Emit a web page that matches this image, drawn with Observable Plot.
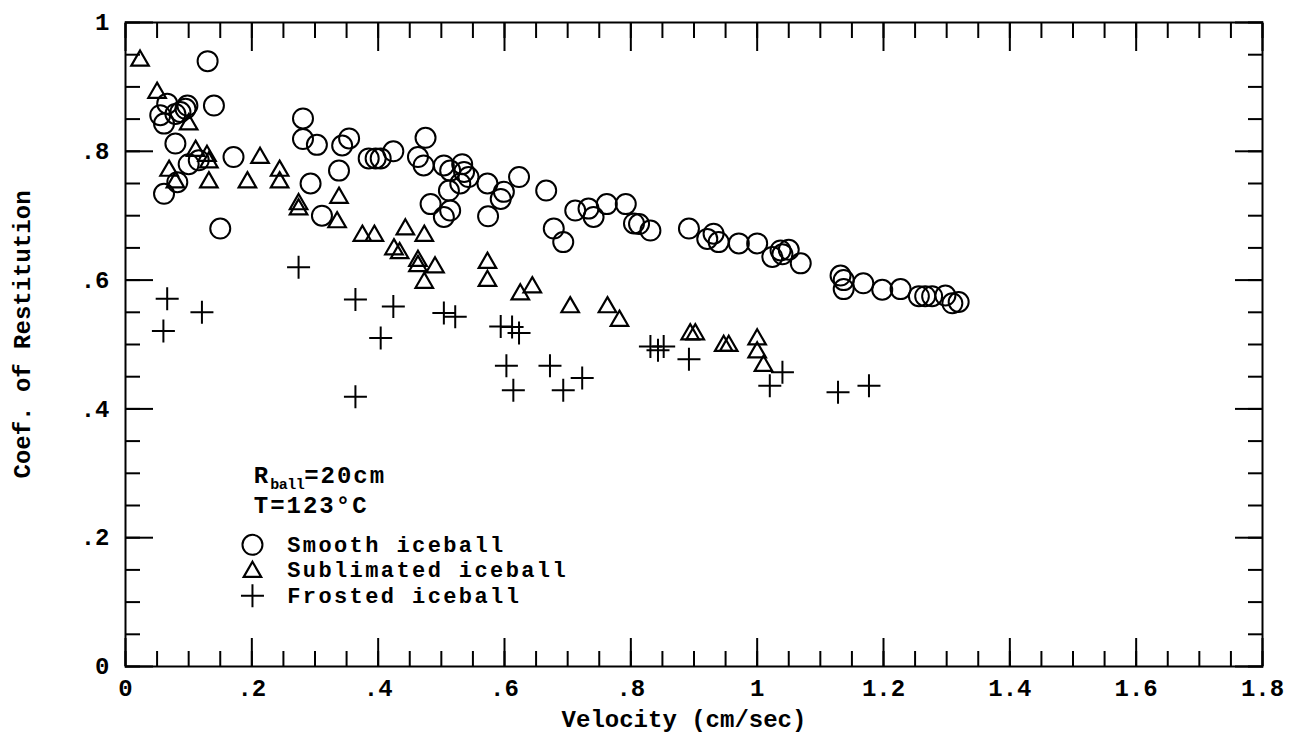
<!DOCTYPE html>
<html>
<head>
<meta charset="utf-8">
<script src="https://cdn.jsdelivr.net/npm/d3@7"></script>
<script src="https://cdn.jsdelivr.net/npm/@observablehq/plot@0.6"></script>
<style>
  html, body { margin: 0; padding: 0; background: #fff; }
  #chart svg { display: block; }
</style>
</head>
<body>
<div id="chart"></div>
<script>
// ---- Data ----
const smoothVelocity = [0.13,0.066,0.098,0.14,0.055,0.061,0.079,0.087,0.095,0.079,0.10,0.116,0.171,0.082,0.061,0.15,
  0.281,0.281,0.303,0.343,0.354,0.338,0.293,0.311,0.385,0.396,0.404,0.424,
  0.475,0.463,0.472,0.504,0.514,0.533,0.536,0.543,0.512,0.53,0.483,0.514,0.504,0.573,0.599,0.594,0.623,0.574,0.666,0.678,0.693,
  0.712,0.733,0.741,0.762,0.792,0.805,0.813,0.831,0.892,
  0.921,0.931,0.939,0.971,1.0,1.024,1.037,1.05,1.04,1.069,
  1.132,1.137,1.137,1.168,1.198,1.227,1.256,1.266,1.277,1.298,1.309,1.319];
const smoothCoef = [0.94,0.874,0.871,0.871,0.856,0.843,0.858,0.861,0.866,0.812,0.78,0.786,0.791,0.752,0.734,0.68,
  0.851,0.819,0.81,0.809,0.82,0.77,0.75,0.70,0.789,0.789,0.789,0.80,
  0.821,0.791,0.778,0.778,0.77,0.78,0.768,0.76,0.739,0.75,0.718,0.708,0.698,0.75,0.737,0.726,0.76,0.699,0.739,0.68,0.659,
  0.708,0.711,0.698,0.718,0.718,0.688,0.687,0.677,0.68,
  0.664,0.672,0.659,0.657,0.657,0.636,0.646,0.647,0.64,0.626,
  0.607,0.60,0.586,0.595,0.585,0.586,0.575,0.575,0.575,0.576,0.564,0.566];

const sublimatedVelocity = [0.023,0.05,0.10,0.111,0.129,0.132,0.069,0.079,0.132,0.193,0.213,0.244,0.244,0.274,0.274,
  0.338,0.335,0.375,0.394,0.425,0.434,0.443,0.473,0.463,0.463,0.49,0.473,0.573,0.573,0.625,0.644,
  0.704,0.763,0.782,0.894,0.902,0.947,0.955,1.0,1.0,1.01];
const sublimatedCoef = [0.944,0.894,0.845,0.804,0.796,0.786,0.773,0.755,0.755,0.755,0.793,0.773,0.755,0.721,0.713,
  0.731,0.693,0.672,0.672,0.651,0.645,0.682,0.672,0.633,0.625,0.623,0.599,0.63,0.602,0.581,0.592,
  0.561,0.561,0.54,0.519,0.519,0.501,0.501,0.511,0.491,0.47];

const frostedVelocity = [0.066,0.06,0.121,0.274,0.364,0.364,0.404,0.424,0.504,0.522,0.594,0.612,0.623,0.603,0.614,
  0.672,0.693,0.723,0.831,0.843,0.852,0.892,1.02,1.04,1.128,1.177];
const frostedCoef = [0.571,0.521,0.55,0.62,0.57,0.419,0.51,0.559,0.549,0.543,0.528,0.527,0.518,0.467,0.429,
  0.467,0.429,0.448,0.497,0.491,0.497,0.477,0.436,0.457,0.426,0.436];

const xMajorTicks = [0, 0.2, 0.4, 0.6, 0.8, 1, 1.2, 1.4, 1.6, 1.8];
const yMajorTicks = [0, 0.2, 0.4, 0.6, 0.8, 1];
const xMinorTicks = d3.range(0, 1.8001, 0.05);
const yMinorTicks = d3.range(0, 1.0001, 0.05);

const xTitle = "Velocity (cm/sec)";
const yTitle = "Coef. of Restitution";
const legendLabels = ["Smooth iceball", "Sublimated iceball", "Frosted iceball"];
const annotationLines = ["R_ball=20cm", "T=123°C"];
const annotationX = 0.203;
const annotationY = [0.297, 0.250];
const legendSymbolX = 0.201;
const legendTextX = 0.256;
const legendY = [0.189, 0.150, 0.110];

// ---- Build tables ----
const zip = (xs, ys) => xs.map((v, i) => ({v, e: ys[i]}));
const smooth = zip(smoothVelocity, smoothCoef);
const sublimated = zip(sublimatedVelocity, sublimatedCoef);
const frosted = zip(frostedVelocity, frostedCoef);

const plusSymbol = {
  draw(ctx, size) {
    const r = Math.sqrt(size / Math.PI);
    ctx.moveTo(-r, 0); ctx.lineTo(r, 0);
    ctx.moveTo(0, -r); ctx.lineTo(0, r);
  }
};

const FONT = "Liberation Mono, DejaVu Sans Mono, monospace";
const fmt = d => d === 0 ? "0" : (d < 1 ? String(+d.toFixed(2)).replace(/^0\./, ".") : String(+d.toFixed(2)));
const blank = () => "";

const tickStyle = {stroke: "black", strokeWidth: 2, tickFormat: blank, label: null};
const textStyle = {fill: "black", fontWeight: "bold"};

const chart = Plot.plot({
  width: 1291,
  height: 736,
  marginLeft: 125,
  marginRight: 29,
  marginTop: 22,
  marginBottom: 70,
  style: {fontFamily: FONT, background: "white", color: "black"},
  x: {domain: [0, 1.8], label: null},
  y: {domain: [0, 1], label: null},
  marks: [
    // inward minor & major ticks on all four sides
    Plot.axisX(xMinorTicks, {anchor: "bottom", tickSize: -15, ...tickStyle}),
    Plot.axisX(xMinorTicks, {anchor: "top", tickSize: -15, ...tickStyle}),
    Plot.axisX(xMajorTicks, {anchor: "bottom", tickSize: -28, ...tickStyle}),
    Plot.axisX(xMajorTicks, {anchor: "top", tickSize: -28, ...tickStyle}),
    Plot.axisY(yMinorTicks, {anchor: "left", tickSize: -15, ...tickStyle}),
    Plot.axisY(yMinorTicks, {anchor: "right", tickSize: -15, ...tickStyle}),
    Plot.axisY(yMajorTicks, {anchor: "left", tickSize: -28, ...tickStyle}),
    Plot.axisY(yMajorTicks, {anchor: "right", tickSize: -28, ...tickStyle}),
    // tick labels
    Plot.axisX(xMajorTicks, {anchor: "bottom", tickSize: 0, tickPadding: 12, tickFormat: fmt, fontSize: 24, label: null, ...textStyle}),
    Plot.axisY(yMajorTicks, {anchor: "left", tickSize: 0, tickPadding: 16, tickFormat: fmt, fontSize: 24, label: null, ...textStyle}),
    Plot.frame({stroke: "black", strokeWidth: 2}),
    // axis titles
    Plot.text([xTitle], {text: d => d, frameAnchor: "bottom", textAnchor: "middle", lineAnchor: "middle", dx: -10, dy: 53, fontSize: 24, ...textStyle}),
    Plot.text([yTitle], {text: d => d, frameAnchor: "left", textAnchor: "middle", lineAnchor: "middle", dx: -103, dy: -10, rotate: -90, fontSize: 24, ...textStyle}),
    // data
    Plot.dot(smooth, {x: "v", y: "e", r: 10, stroke: "black", fill: "none", strokeWidth: 2}),
    Plot.dot(sublimated, {x: "v", y: "e", symbol: "triangle", r: 6.5, dy: 2, stroke: "black", fill: "none", strokeWidth: 2.2}),
    Plot.dot(frosted, {x: "v", y: "e", symbol: plusSymbol, r: 11.5, stroke: "black", fill: "none", strokeWidth: 2}),
    // annotation
    Plot.text(annotationLines, {x: () => annotationX, y: (d, i) => annotationY[i], text: d => d, textAnchor: "start", fontSize: 24, ...textStyle}),
    // legend
    Plot.dot([legendLabels[0]], {x: () => legendSymbolX, y: () => legendY[0], r: 10, stroke: "black", fill: "none", strokeWidth: 2}),
    Plot.dot([legendLabels[1]], {x: () => legendSymbolX, y: () => legendY[1], symbol: "triangle", r: 6.5, dy: 2, stroke: "black", fill: "none", strokeWidth: 2.2}),
    Plot.dot([legendLabels[2]], {x: () => legendSymbolX, y: () => legendY[2], symbol: plusSymbol, r: 11.5, stroke: "black", fill: "none", strokeWidth: 2}),
    Plot.text(legendLabels, {x: () => legendTextX, y: (d, i) => legendY[i], text: d => d, textAnchor: "start", fontSize: 22, ...textStyle})
  ]
});

// letter spacing for legend and annotation texts; subscript for R_ball
const ns = "http://www.w3.org/2000/svg";
chart.querySelectorAll("text").forEach(t => {
  const s = t.textContent;
  if (legendLabels.includes(s)) t.setAttribute("letter-spacing", "2.4");
  if (s === "T=123°C") t.setAttribute("letter-spacing", "2");
  if (s === "R_ball=20cm") {
    t.textContent = "";
    t.setAttribute("letter-spacing", "2");
    const a = document.createElementNS(ns, "tspan"); a.textContent = "R";
    const b = document.createElementNS(ns, "tspan"); b.textContent = "ball";
    b.setAttribute("font-size", "15"); b.setAttribute("dy", "6"); b.setAttribute("letter-spacing", "-0.5");
    const c = document.createElementNS(ns, "tspan"); c.textContent = "=20cm"; c.setAttribute("dy", "-6");
    t.append(a, b, c);
  }
});

document.getElementById("chart").append(chart);
</script>
</body>
</html>
